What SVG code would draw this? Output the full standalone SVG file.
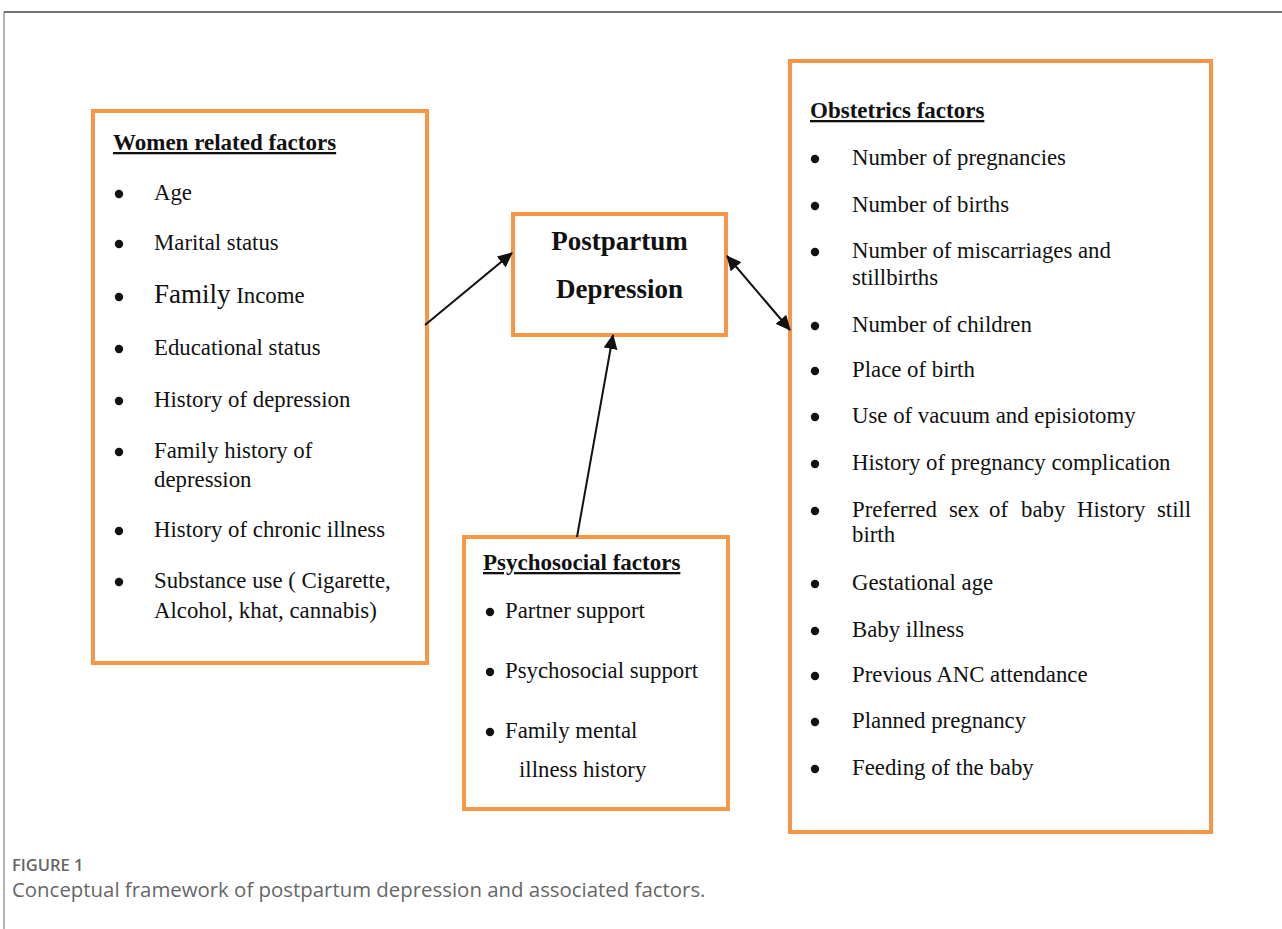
<svg xmlns="http://www.w3.org/2000/svg" width="1282" height="929" viewBox="0 0 1282 929">
<style>
.box{fill:#fff;stroke:#F79646;stroke-width:4}
.t{font-family:"Liberation Serif","Times New Roman",serif;font-size:22.8px;fill:#111}
.h{font-family:"Liberation Serif","Times New Roman",serif;font-size:23px;font-weight:bold;fill:#111;text-decoration:underline}
.c{font-family:"Liberation Serif","Times New Roman",serif;font-size:27px;font-weight:bold;fill:#111}
.dot{fill:#111}
.con{stroke:#111;stroke-width:2;fill:none}
</style>
<defs>
<marker id="ah" markerUnits="userSpaceOnUse" markerWidth="16" markerHeight="14" refX="14" refY="7" orient="auto-start-reverse">
<path d="M0,0 L15,7 L0,14 Z" fill="#111"/>
</marker>
<circle id="bul" r="4.2"/>
</defs>
<rect width="1282" height="929" fill="#fff"/>
<line x1="4" y1="12" x2="1282" y2="12" stroke="#444" stroke-width="1.5"/>
<line x1="4" y1="12" x2="4" y2="929" stroke="#666" stroke-width="1"/>

<g id="women">
<rect class="box" x="93" y="111" width="334" height="552"/>
<text class="h" x="113" y="150">Women related factors</text>
<g class="dot"><use href="#bul" x="119" y="194"/><use href="#bul" x="119" y="244"/><use href="#bul" x="119" y="297"/><use href="#bul" x="119" y="349"/><use href="#bul" x="119" y="401"/><use href="#bul" x="119" y="452"/><use href="#bul" x="119" y="531"/><use href="#bul" x="119" y="582"/></g>
<text class="t" x="154" y="200">Age</text>
<text class="t" x="154" y="250">Marital status</text>
<text class="t" x="154" y="303"><tspan font-size="27px">Family</tspan> Income</text>
<text class="t" x="154" y="355">Educational status</text>
<text class="t" x="154" y="407">History of depression</text>
<text class="t" x="154" y="458">Family history of</text>
<text class="t" x="154" y="487">depression</text>
<text class="t" x="154" y="537">History of chronic illness</text>
<text class="t" x="154" y="588">Substance use ( Cigarette,</text>
<text class="t" x="154" y="618">Alcohol, khat, cannabis)</text>
</g>

<g id="ppd">
<rect class="box" x="513" y="214" width="213" height="121"/>
<text class="c" x="619.5" y="250" text-anchor="middle">Postpartum</text>
<text class="c" x="619.5" y="298" text-anchor="middle">Depression</text>
</g>

<g id="psychosocial">
<rect class="box" x="464" y="537" width="264" height="272"/>
<text class="h" x="483" y="570">Psychosocial factors</text>
<g class="dot"><use href="#bul" x="490" y="612"/><use href="#bul" x="490" y="672"/><use href="#bul" x="490" y="732"/></g>
<text class="t" x="505" y="618">Partner support</text>
<text class="t" x="505" y="678">Psychosocial support</text>
<text class="t" x="505" y="738">Family mental</text>
<text class="t" x="519" y="777">illness history</text>
</g>

<g id="obstetrics">
<rect class="box" x="790" y="61" width="421" height="771"/>
<text class="h" x="810" y="118">Obstetrics factors</text>
<g class="dot"><use href="#bul" x="815" y="159"/><use href="#bul" x="815" y="206"/><use href="#bul" x="815" y="252"/><use href="#bul" x="815" y="326"/><use href="#bul" x="815" y="371"/><use href="#bul" x="815" y="417"/><use href="#bul" x="815" y="464"/><use href="#bul" x="815" y="511"/><use href="#bul" x="815" y="584"/><use href="#bul" x="815" y="631"/><use href="#bul" x="815" y="676"/><use href="#bul" x="815" y="722"/><use href="#bul" x="815" y="769"/></g>
<text class="t" x="852" y="165">Number of pregnancies</text>
<text class="t" x="852" y="212">Number of births</text>
<text class="t" x="852" y="258">Number of miscarriages and</text>
<text class="t" x="852" y="285">stillbirths</text>
<text class="t" x="852" y="332">Number of children</text>
<text class="t" x="852" y="377">Place of birth</text>
<text class="t" x="852" y="423">Use of vacuum and episiotomy</text>
<text class="t" x="852" y="470">History of pregnancy complication</text>
<text class="t" y="517"><tspan x="852">Preferred</tspan><tspan x="949">sex</tspan><tspan x="989">of</tspan><tspan x="1021">baby</tspan><tspan x="1077">History</tspan><tspan x="1157">still</tspan></text>
<text class="t" x="852" y="542">birth</text>
<text class="t" x="852" y="590">Gestational age</text>
<text class="t" x="852" y="637">Baby illness</text>
<text class="t" x="852" y="682">Previous ANC attendance</text>
<text class="t" x="852" y="728">Planned pregnancy</text>
<text class="t" x="852" y="775">Feeding of the baby</text>
</g>

<g id="connectors">
<line class="con" x1="425" y1="325" x2="512" y2="253" marker-end="url(#ah)"/>
<line class="con" x1="727" y1="256" x2="790" y2="330" marker-start="url(#ah)" marker-end="url(#ah)"/>
<line class="con" x1="577" y1="537" x2="613" y2="335" marker-end="url(#ah)"/>
</g>

<g id="caption">
<text x="12" y="871" font-family="'Open Sans',sans-serif" font-size="16.5" font-weight="600" fill="#666">FIGURE 1</text>
<text x="12" y="897" font-family="'Open Sans',sans-serif" font-size="20.4" fill="#666">Conceptual framework of postpartum depression and associated factors.</text>
</g>
</svg>
